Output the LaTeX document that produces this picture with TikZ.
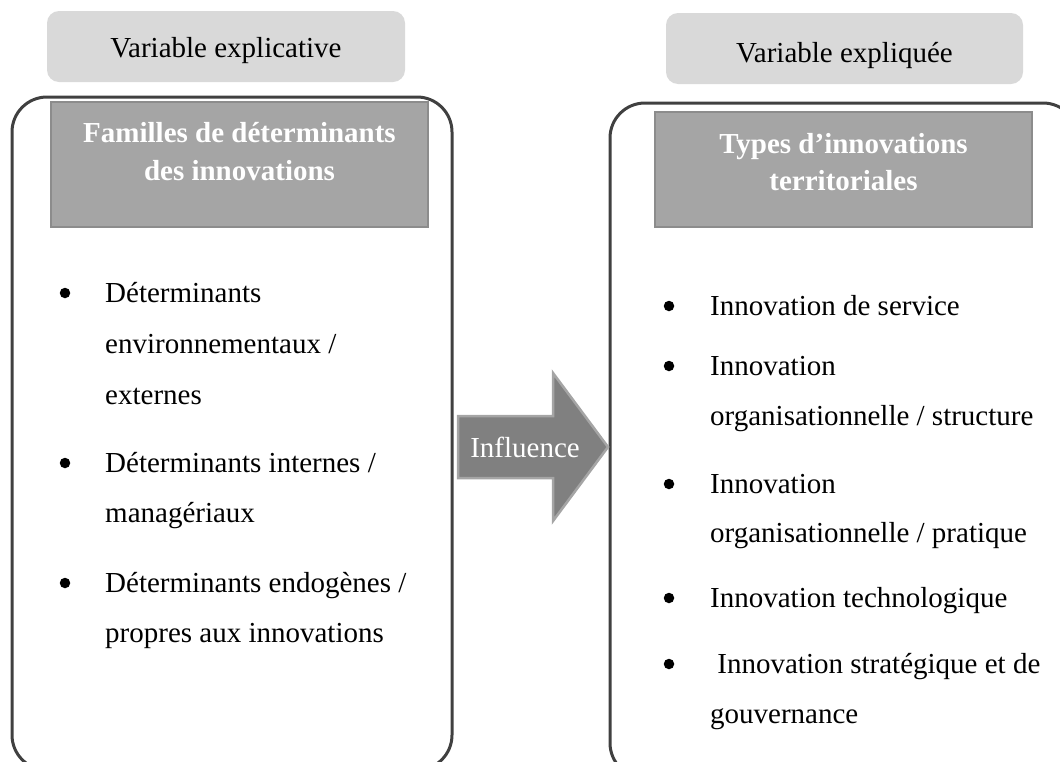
\documentclass[tikz,border=0pt]{standalone}
\usepackage{fontspec}
\setmainfont{Liberation Serif}
\definecolor{labfill}{HTML}{D9D9D9}
\definecolor{titfill}{HTML}{A5A5A5}
\definecolor{titline}{HTML}{8C8C8C}
\definecolor{boxline}{HTML}{404040}
\definecolor{arrfill}{HTML}{808080}
\definecolor{arrline}{HTML}{A5A5A5}
\tikzset{
  labelbox/.style={fill=labfill, draw=none, rounded corners=12pt, inner sep=0pt},
  titlebox/.style={fill=titfill, draw=titline, line width=2.5pt, inner sep=0pt},
  bigbox/.style={draw=boxline, line width=3pt, rounded corners=35pt},
  txt/.style={anchor=base west, inner sep=0pt, font=\fontsize{29}{35}\selectfont},
  ctxt/.style={anchor=base, inner sep=0pt, font=\fontsize{29}{35}\selectfont},
  ttxt/.style={anchor=base, inner sep=0pt, text=white, font=\fontsize{29}{35}\selectfont\bfseries},
  bul/.style={circle, fill=black, draw=none, inner sep=0pt, minimum size=10.5pt},
  bigarrow/.style={fill=arrfill, draw=arrline, line width=2.5pt, line join=miter},
}
\begin{document}
\begin{tikzpicture}[x=1pt,y=-1pt]
\useasboundingbox (0,0) rectangle (1060,761);
\clip (0,0) rectangle (1060,761);
% header labels
\path[labelbox] (47,11) rectangle (405,82);
\node[ctxt] (lab1) at (226,57) {Variable explicative};
\path[labelbox] (666,13) rectangle (1023,84);
\node[ctxt] (lab2) at (844.5,62) {Variable expliquée};
% big boxes
\draw[bigbox] (12,97) rectangle (452,770);
\draw[bigbox] (610,103) rectangle (1078,778);
% title boxes
\draw[titlebox] (51,102) rectangle (428,227);
\node[ttxt] (t1a) at (239.5,142) {Familles de déterminants};
\node[ttxt] (t1b) at (239.5,180) {des innovations};
\draw[titlebox] (655,112) rectangle (1032,227);
\node[ttxt] (t2a) at (843.5,153) {Types d’innovations};
\node[ttxt] (t2b) at (843.5,190) {territoriales};
% left bullets
\node[bul] (lb1) at (65,293) {};
\node[txt] (l1a) at (105,302) {Déterminants};
\node[txt] (l1b) at (105,353) {environnementaux /};
\node[txt] (l1c) at (105,404) {externes};
\node[bul] (lb2) at (65,463) {};
\node[txt] (l2a) at (105,472) {Déterminants internes /};
\node[txt] (l2b) at (105,522) {managériaux};
\node[bul] (lb3) at (65,583) {};
\node[txt] (l3a) at (105,592) {Déterminants endogènes /};
\node[txt] (l3b) at (105,642) {propres aux innovations};
% right bullets
\node[bul] (rb1) at (669,306) {};
\node[txt] (r1a) at (710,315) {Innovation de service};
\node[bul] (rb2) at (669,366) {};
\node[txt] (r2a) at (710,375) {Innovation};
\node[txt] (r2b) at (710,425) {organisationnelle / structure};
\node[bul] (rb3) at (669,484) {};
\node[txt] (r3a) at (710,493) {Innovation};
\node[txt] (r3b) at (710,542) {organisationnelle / pratique};
\node[bul] (rb4) at (669,598) {};
\node[txt] (r4a) at (710,607) {Innovation technologique};
\node[bul] (rb5) at (669,664) {};
\node[txt] (r5a) at (710,673) {\ Innovation stratégique et de};
\node[txt] (r5b) at (710,723) {gouvernance};
% arrow
\draw[bigarrow] (458,416) -- (553,416) -- (553,373) -- (608,447) -- (553,521) -- (553,478) -- (458,478) -- cycle;
\node[ctxt, text=white] (infl) at (525,457) {Influence};
\end{tikzpicture}
\end{document}
